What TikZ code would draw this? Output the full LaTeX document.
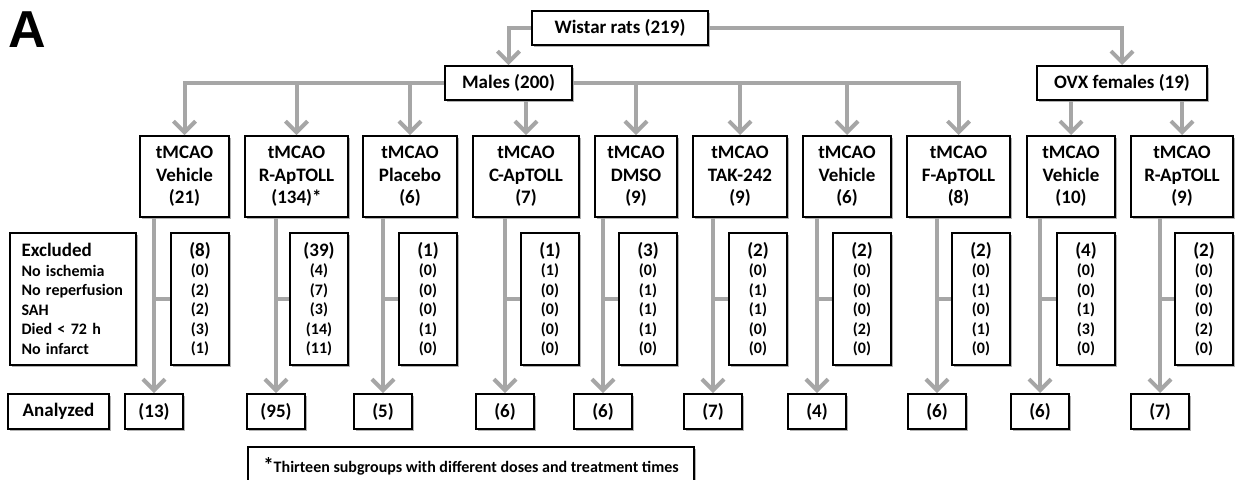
\documentclass[tikz,border=0pt]{standalone}
\usepackage{fontspec}
\setmainfont{Carlito}
\newfontfamily\arialfont{Liberation Sans}
\usetikzlibrary{arrows.meta,shadows}
\definecolor{conncol}{HTML}{A6A6A6}
\newcommand\exnums[6]{{\fontsize{9.5}{9.75}\selectfont (#1)}\\(#2)\\(#3)\\(#4)\\(#5)\\(#6)}
\tikzset{
 box/.style={draw=black, line width=1pt, fill=white,
   drop shadow={opacity=0.3, shadow xshift=1.2pt, shadow yshift=-1.2pt, fill=black},
   inner sep=0pt, font=\bfseries\fontsize{9.5}{11}\selectfont},
 topbox/.style={box, minimum height=17pt},
 tbox/.style={box, align=center, minimum height=40.5pt, font=\bfseries\fontsize{9.5}{11.25}\selectfont},
 nbox/.style={box, align=center, minimum width=29pt, minimum height=66pt, font=\bfseries\fontsize{8}{9.75}\selectfont},
 abox/.style={box, minimum width=29pt, minimum height=17.5pt},
 conn/.style={draw=conncol, line width=2pt},
 arr/.style={conn, -{Straight Barb[length=5.5pt,width=11pt]}},
}
\begin{document}
\begin{tikzpicture}[x=0.5pt,y=-0.5pt]
\useasboundingbox (0,0) rectangle (1235,479);
\clip (0,0) rectangle (1235,479);

\node[font=\arialfont\bfseries\fontsize{26}{26}\selectfont, inner sep=0pt] (lblA) at (27,30) {A};

% top level
\node[topbox, minimum width=88pt] (wistar) at (620,28) {Wistar rats (219)};
\node[topbox, minimum width=63.5pt] (males) at (508.5,83) {Males (200)};
\node[topbox, minimum width=85pt] (ovx) at (1122,83) {OVX females (19)};

% treatment boxes
\node[tbox, minimum width=44.5pt] (b1) at (184.5,176.5) {tMCAO\\Vehicle\\(21)};
\node[tbox, minimum width=51.5pt] (b2) at (296.5,176.5) {tMCAO\\R-ApTOLL\\(134)*};
\node[tbox, minimum width=47pt] (b3) at (410,176.5) {tMCAO\\Placebo\\(6)};
\node[tbox, minimum width=53pt] (b4) at (526,176.5) {tMCAO\\C-ApTOLL\\(7)};
\node[tbox, minimum width=41pt] (b5) at (636,176.5) {tMCAO\\DMSO\\(9)};
\node[tbox, minimum width=47pt] (b6) at (740,176.5) {tMCAO\\TAK-242\\(9)};
\node[tbox, minimum width=44pt] (b7) at (847,176.5) {tMCAO\\Vehicle\\(6)};
\node[tbox, minimum width=51.5pt] (b8) at (958.5,176.5) {tMCAO\\F-ApTOLL\\(8)};
\node[tbox, minimum width=44pt] (b9) at (1071,176.5) {tMCAO\\Vehicle\\(10)};
\node[tbox, minimum width=51pt] (b10) at (1182,176.5) {tMCAO\\R-ApTOLL\\(9)};

% excluded
\node[box, align=left, text width=51pt, inner xsep=6pt, minimum height=66pt,
      font=\bfseries\fontsize{8}{9.75}\selectfont] (excl) at (72.5,299)
  {{\fontsize{9.5}{9.75}\selectfont Excluded}\\No ischemia\\No reperfusion\\SAH\\Died < 72 h\\No infarct};
\node[nbox] (n1) at (200,299) {\exnums{8}{0}{2}{2}{3}{1}};
\node[nbox] (n2) at (319,299) {\exnums{39}{4}{7}{3}{14}{11}};
\node[nbox] (n3) at (428,299) {\exnums{1}{0}{0}{0}{1}{0}};
\node[nbox] (n4) at (550,299) {\exnums{1}{1}{0}{0}{0}{0}};
\node[nbox] (n5) at (648,299) {\exnums{3}{0}{1}{1}{1}{0}};
\node[nbox] (n6) at (758,299) {\exnums{2}{0}{1}{1}{0}{0}};
\node[nbox] (n7) at (862,299) {\exnums{2}{0}{0}{0}{2}{0}};
\node[nbox] (n8) at (981,299) {\exnums{2}{0}{1}{0}{1}{0}};
\node[nbox] (n9) at (1086,299) {\exnums{4}{0}{0}{1}{3}{0}};
\node[nbox] (n10) at (1204,299) {\exnums{2}{0}{0}{0}{2}{0}};

% analyzed
\node[box, minimum width=50.5pt, minimum height=17.5pt] (anl) at (58.5,411.5) {Analyzed};
\node[abox] (a1) at (154,411.5) {(13)};
\node[abox] (a2) at (276,411.5) {(95)};
\node[abox] (a3) at (383,411.5) {(5)};
\node[abox] (a4) at (505,411.5) {(6)};
\node[abox] (a5) at (603,411.5) {(6)};
\node[abox] (a6) at (713,411.5) {(7)};
\node[abox] (a7) at (817,411.5) {(4)};
\node[abox] (a8) at (937,411.5) {(6)};
\node[abox] (a9) at (1040,411.5) {(6)};
\node[abox] (a10) at (1160,411.5) {(7)};

% footnote
\node[box, anchor=north west, minimum width=223pt, minimum height=19pt,
      font=\bfseries\fontsize{8}{9.75}\selectfont] (foot) at (247,446)
  {{\fontsize{10.5}{9.75}\selectfont *}Thirteen subgroups with different doses and treatment times};

% connectors: top
\draw[arr] (wistar.west) -| (males.north);
\draw[arr] (wistar.east) -| (ovx.north);
\draw[arr] (males.west) -| (b1.north);
\draw[arr] (b2.north |- males.west) -- (b2.north);
\draw[arr] (b3.north |- males.west) -- (b3.north);
\draw[arr] (b4.north |- males.south) -- (b4.north);
\draw[arr] (males.east) -| (b8.north);
\draw[arr] (b5.north |- males.east) -- (b5.north);
\draw[arr] (b6.north |- males.east) -- (b6.north);
\draw[arr] (b7.north |- males.east) -- (b7.north);
\draw[arr] (b9.north |- ovx.south) -- (b9.north);
\draw[arr] (b10.north |- ovx.south) -- (b10.north);

% connectors: down to analyzed, with stubs to exclusions
\foreach \i in {1,...,10}{
  \draw[arr] (a\i.north |- b\i.south) -- (a\i.north);
  \draw[conn] (a\i.north |- n\i.west) -- (n\i.west);
}
\end{tikzpicture}
\end{document}
